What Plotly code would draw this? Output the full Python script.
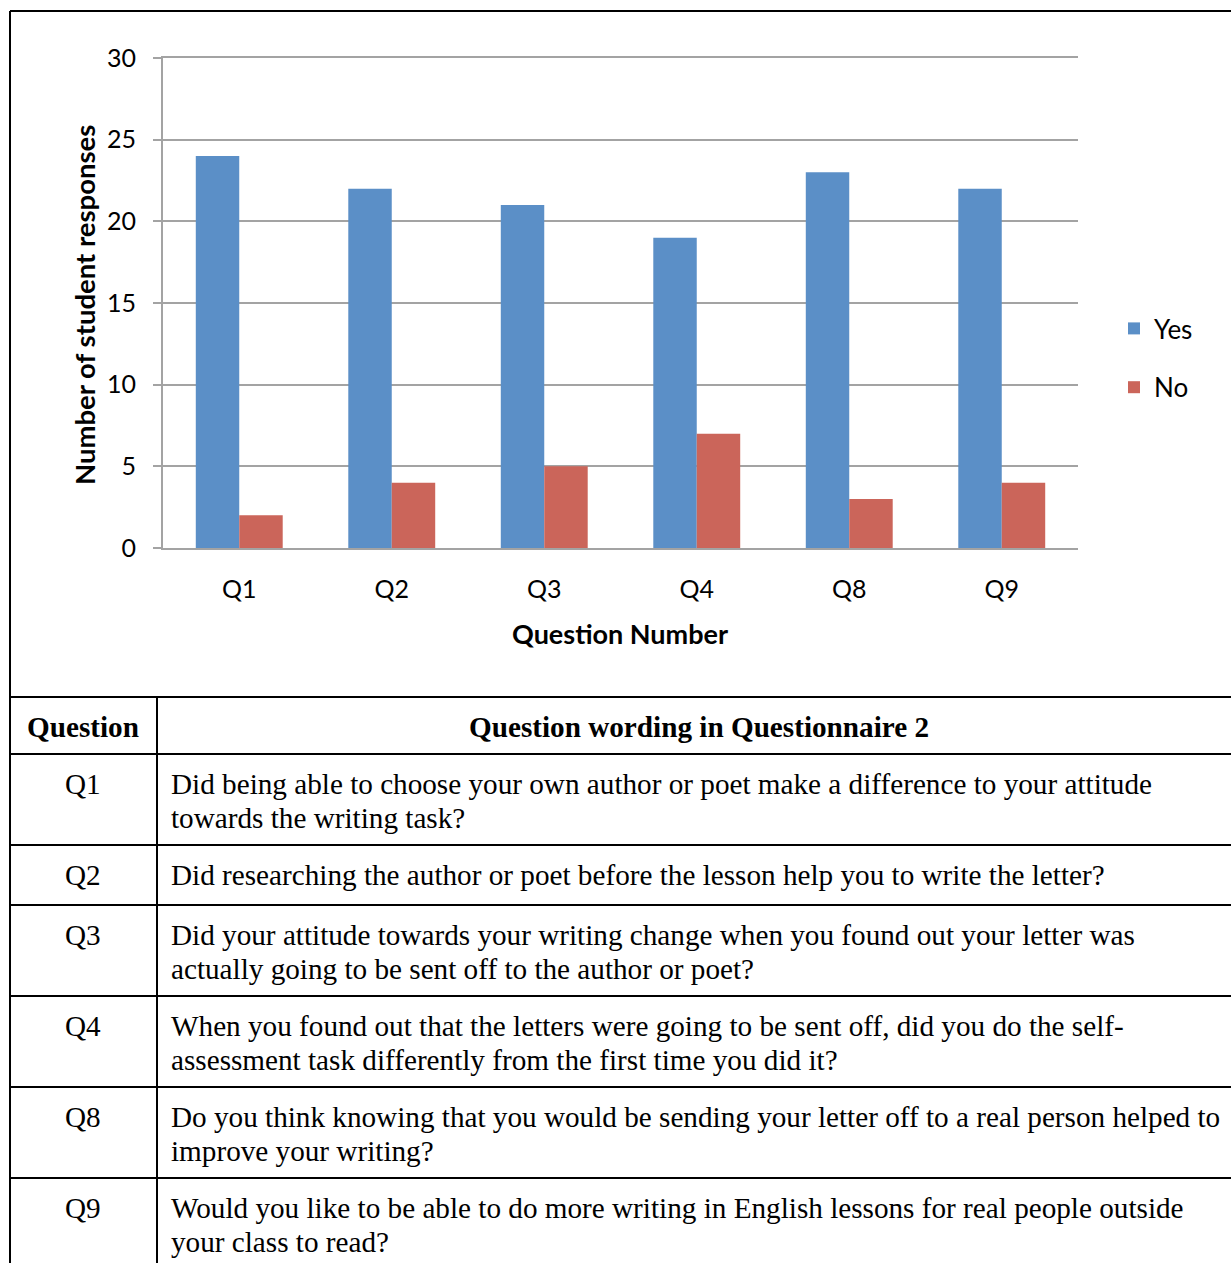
import plotly.graph_objects as go

# ---- data ----
questions = ["Q1", "Q2", "Q3", "Q4", "Q8", "Q9"]
yes_counts = [24, 22, 21, 19, 23, 22]
no_counts = [2, 4, 5, 7, 3, 4]
y_ticks = [0, 5, 10, 15, 20, 25, 30]

table_header = ["Question", "Question wording in Questionnaire 2"]
wording_lines = [
    ["Did being able to choose your own author or poet make a difference to your attitude",
     "towards the writing task?"],
    ["Did researching the author or poet before the lesson help you to write the letter?"],
    ["Did your attitude towards your writing change when you found out your letter was",
     "actually going to be sent off to the author or poet?"],
    ["When you found out that the letters were going to be sent off, did you do the self-",
     "assessment task differently from the first time you did it?"],
    ["Do you think knowing that you would be sending your letter off to a real person helped to",
     "improve your writing?"],
    ["Would you like to be able to do more writing in English lessons for real people outside",
     "your class to read?"],
]

# ---- page geometry (pixels) ----
W, H = 1231, 1263
def px(x):
    return x / W
def py(y):
    return 1 - y / H

row_edges = [697, 754, 845, 905, 996, 1087, 1178]
col_split = 157
left_edge = 10
top_edge = 11

CHART_FONT = "Lato, Open Sans, sans-serif"
TABLE_FONT = "Liberation Serif, Times New Roman, serif"
GRID = "#A3A3A3"
TABLE_SIZE = 29.2

fig = go.Figure()
fig.add_trace(go.Bar(x=questions, y=yes_counts, name="Yes",
                     marker=dict(color="#5B8FC7", line=dict(width=0)),
                     legendgroup="yes"))
fig.add_trace(go.Bar(x=questions, y=no_counts, name="No",
                     marker=dict(color="#CB655A", line=dict(width=0)),
                     legendgroup="no"))

fig.update_layout(
    width=W, height=H,
    margin=dict(l=0, r=0, t=0, b=0, autoexpand=False),
    paper_bgcolor="white", plot_bgcolor="white",
    barmode="group", bargap=0.43, bargroupgap=0,
    font=dict(family=CHART_FONT, size=26, color="#000000"),
    showlegend=True,
    legend=dict(x=px(1114), y=py(305), xanchor="left", yanchor="top",
                font=dict(size=26, family=CHART_FONT), tracegroupgap=22,
                bgcolor="rgba(0,0,0,0)", itemwidth=30),
    xaxis=dict(domain=[px(163), px(1078)], showgrid=False, zeroline=False,
               showline=True, mirror=True, linecolor=GRID, linewidth=2, ticks="",
               tickfont=dict(size=25, family=CHART_FONT),
               ticklabelstandoff=18, automargin=False),
    yaxis=dict(domain=[py(548), py(58)], range=[0, 30], tickvals=y_ticks,
               showgrid=True, gridcolor=GRID, gridwidth=2, zeroline=False,
               showline=True, linecolor=GRID, linewidth=2,
               ticks="outside", ticklen=8, tickcolor=GRID, tickwidth=2,
               tickfont=dict(size=25, family=CHART_FONT),
               ticklabelstandoff=12, automargin=False),
)

annotations = [
    dict(text="<b>Number of student responses</b>", x=px(84), y=py(305),
         xref="paper", yref="paper", textangle=-90, showarrow=False,
         font=dict(size=27.5, family=CHART_FONT), xanchor="center", yanchor="middle"),
    dict(text="<b>Question Number</b>", x=px(620), y=py(633),
         xref="paper", yref="paper", showarrow=False,
         font=dict(size=27, family=CHART_FONT), xanchor="center", yanchor="middle"),
]

# table header
annotations.append(dict(text="<b>%s</b>" % table_header[0], x=px(83), y=py(727),
                        xref="paper", yref="paper", showarrow=False,
                        font=dict(size=TABLE_SIZE, family=TABLE_FONT),
                        xanchor="center", yanchor="middle"))
annotations.append(dict(text="<b>%s</b>" % table_header[1], x=px(699), y=py(727),
                        xref="paper", yref="paper", showarrow=False,
                        font=dict(size=TABLE_SIZE, family=TABLE_FONT),
                        xanchor="center", yanchor="middle"))

# table body
line_step = 34
for i, (q, lines) in enumerate(zip(questions, wording_lines)):
    top = row_edges[i + 1]
    first = top + 30
    annotations.append(dict(text=q, x=px(83), y=py(first), xref="paper", yref="paper",
                            showarrow=False, font=dict(size=TABLE_SIZE, family=TABLE_FONT),
                            xanchor="center", yanchor="middle"))
    for k, ln in enumerate(lines):
        annotations.append(dict(text=ln, x=px(169), y=py(first + k * line_step),
                                xref="paper", yref="paper", showarrow=False,
                                font=dict(size=TABLE_SIZE, family=TABLE_FONT),
                                xanchor="left", yanchor="middle"))

shapes = []
black = dict(color="black", width=2)
# outer frame
shapes.append(dict(type="line", xref="paper", yref="paper",
                   x0=px(left_edge), x1=1, y0=py(top_edge), y1=py(top_edge), line=black))
shapes.append(dict(type="line", xref="paper", yref="paper",
                   x0=px(left_edge), x1=px(left_edge), y0=py(top_edge), y1=0, line=black))
# table rules
for e in row_edges:
    shapes.append(dict(type="line", xref="paper", yref="paper",
                       x0=px(left_edge), x1=1, y0=py(e), y1=py(e), line=black))
shapes.append(dict(type="line", xref="paper", yref="paper",
                   x0=px(col_split), x1=px(col_split), y0=py(row_edges[0]), y1=0, line=black))

fig.update_layout(annotations=annotations, shapes=shapes)
fig.write_html("out.html")
